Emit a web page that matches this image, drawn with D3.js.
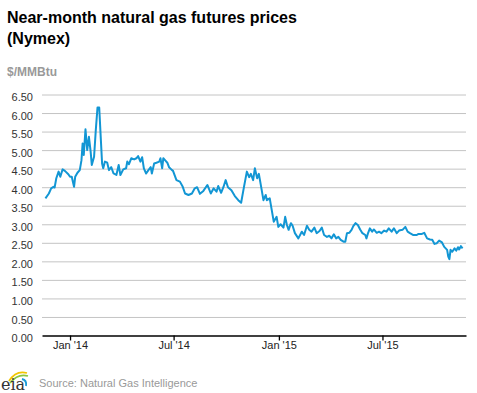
<!DOCTYPE html>
<html>
<head>
<meta charset="utf-8">
<script src="https://cdn.jsdelivr.net/npm/d3@7"></script>
<style>
  body { margin: 0; background: #fff; }
  svg { display: block; font-family: Arial, "Liberation Sans", sans-serif; }
</style>
</head>
<body>
<div id="chart"></div>
<script>
// Near-month natural gas futures (Nymex), $/MMBtu
const dates = [
  "2013-11-19","2013-11-25","2013-11-29","2013-12-03","2013-12-05","2013-12-08","2013-12-12","2013-12-15",
  "2013-12-19","2013-12-23","2013-12-29","2014-01-01","2014-01-04","2014-01-08","2014-01-10","2014-01-14",
  "2014-01-18","2014-01-21","2014-01-23","2014-01-25","2014-01-28","2014-01-31","2014-02-03","2014-02-06",
  "2014-02-08","2014-02-12","2014-02-15","2014-02-18","2014-02-21","2014-02-23","2014-02-26","2014-02-28",
  "2014-03-03","2014-03-07","2014-03-10","2014-03-14","2014-03-18","2014-03-23","2014-03-27","2014-03-30",
  "2014-04-04","2014-04-09","2014-04-11","2014-04-14","2014-04-18","2014-04-23","2014-04-27","2014-04-30",
  "2014-05-04","2014-05-07","2014-05-10","2014-05-14","2014-05-18","2014-05-22","2014-05-24","2014-05-28",
  "2014-06-01","2014-06-06","2014-06-08","2014-06-11","2014-06-13","2014-06-16","2014-06-20","2014-06-23",
  "2014-06-27","2014-06-30","2014-07-06","2014-07-12","2014-07-17","2014-07-21","2014-07-27","2014-08-02",
  "2014-08-07","2014-08-11","2014-08-16","2014-08-22","2014-08-29","2014-09-04","2014-09-09","2014-09-14",
  "2014-09-17","2014-09-22","2014-09-26","2014-09-30","2014-10-04","2014-10-10","2014-10-16","2014-10-22",
  "2014-10-27","2014-11-01","2014-11-06","2014-11-10","2014-11-13","2014-11-17","2014-11-20","2014-11-24",
  "2014-11-27","2014-12-01","2014-12-05","2014-12-09","2014-12-11","2014-12-16","2014-12-19","2014-12-23",
  "2014-12-28","2014-12-31","2015-01-04","2015-01-09","2015-01-12","2015-01-15","2015-01-18","2015-01-22",
  "2015-01-25","2015-01-29","2015-02-04","2015-02-10","2015-02-14","2015-02-19","2015-02-23","2015-02-27",
  "2015-03-04","2015-03-08","2015-03-13","2015-03-17","2015-03-21","2015-03-26","2015-03-30","2015-04-03",
  "2015-04-07","2015-04-11","2015-04-15","2015-04-19","2015-04-24","2015-04-27","2015-04-30","2015-05-04",
  "2015-05-08","2015-05-11","2015-05-15","2015-05-19","2015-05-23","2015-05-27","2015-06-01","2015-06-03",
  "2015-06-06","2015-06-09","2015-06-13","2015-06-16","2015-06-21","2015-06-25","2015-06-29","2015-07-04",
  "2015-07-08","2015-07-12","2015-07-17","2015-07-21","2015-07-26","2015-07-30","2015-08-05","2015-08-10",
  "2015-08-14","2015-08-18","2015-08-24","2015-08-30","2015-09-02","2015-09-05","2015-09-08","2015-09-12",
  "2015-09-17","2015-09-22","2015-09-26","2015-09-30","2015-10-04","2015-10-08","2015-10-13","2015-10-17",
  "2015-10-22","2015-10-24","2015-10-26","2015-10-28","2015-10-31","2015-11-04","2015-11-07","2015-11-10",
  "2015-11-12","2015-11-15","2015-11-18"
];
const prices = [
  3.70,3.83,3.97,4.01,3.99,4.24,4.42,4.28,
  4.48,4.44,4.35,4.28,4.28,4.01,4.28,4.39,
  4.46,4.73,5.18,4.87,5.56,5.00,5.36,4.96,
  4.60,4.82,5.54,6.15,6.15,5.54,4.64,4.51,
  4.69,4.66,4.46,4.54,4.37,4.33,4.60,4.33,
  4.48,4.51,4.69,4.62,4.78,4.75,4.78,4.84,
  4.69,4.81,4.51,4.37,4.46,4.54,4.37,4.64,
  4.66,4.69,4.78,4.51,4.78,4.73,4.66,4.54,
  4.48,4.44,4.19,4.15,4.01,3.83,3.79,3.83,
  3.97,4.00,3.82,3.90,4.06,3.83,3.97,3.88,
  4.03,3.85,4.00,4.19,4.00,3.92,3.76,3.65,
  3.58,4.01,4.42,4.27,4.36,4.19,4.51,4.24,
  4.36,4.01,3.65,3.79,3.65,3.70,3.43,3.07,
  3.20,2.93,3.00,2.91,3.20,2.98,2.85,3.03,
  2.96,2.76,2.62,2.80,2.71,2.96,2.85,2.80,
  2.91,2.76,2.82,2.91,2.71,2.66,2.69,2.62,
  2.73,2.62,2.66,2.58,2.53,2.53,2.76,2.77,
  2.85,2.95,3.03,2.98,2.86,2.76,2.71,2.62,
  2.77,2.89,2.80,2.86,2.77,2.80,2.76,2.83,
  2.80,2.89,2.80,2.89,2.76,2.83,2.85,2.93,
  2.80,2.76,2.71,2.71,2.74,2.74,2.74,2.77,
  2.62,2.59,2.58,2.47,2.49,2.56,2.51,2.39,
  2.31,2.13,2.06,2.31,2.26,2.35,2.29,2.38,
  2.32,2.41,2.35
];
const xTickDates = ["2014-01-01","2014-07-01","2015-01-01","2015-07-01"];
const yTicks = [0,0.5,1,1.5,2,2.5,3,3.5,4,4.5,5,5.5,6,6.5];
const xDomain = ["2013-11-13","2015-11-24"];

const W = 477, H = 393;
const plotLeft = 42, plotRight = 466, plotTop = 94.5, plotBottom = 335.5;
const parse = d3.timeParse("%Y-%m-%d");

const data = dates.map((d, i) => ({ date: parse(d), value: prices[i] }));

const svg = d3.select("#chart").append("svg")
    .attr("width", W)
    .attr("height", H);

const x = d3.scaleTime()
    .domain(xDomain.map(parse))
    .range([plotLeft, plotRight]);

const y = d3.scaleLinear()
    .domain([0, 6.5])
    .range([plotBottom, plotTop]);

// title
svg.append("text")
    .attr("x", 7).attr("y", 22.5)
    .style("font-size", "16px").style("font-weight", "bold").style("fill", "#000")
    .text("Near-month natural gas futures prices");
svg.append("text")
    .attr("x", 7).attr("y", 43.5)
    .style("font-size", "16px").style("font-weight", "bold").style("fill", "#000")
    .text("(Nymex)");

svg.append("text")
    .attr("x", 7).attr("y", 76)
    .style("font-size", "12px").style("font-weight", "bold").style("fill", "#999")
    .text("$/MMBtu");

// gridlines + y labels
const yAxis = svg.append("g")
    .attr("transform", `translate(${plotLeft},0)`)
    .call(d3.axisLeft(y).tickValues(yTicks).tickFormat(d3.format(".2f"))
        .tickSize(-(plotRight - plotLeft)).tickPadding(9));
yAxis.select(".domain").remove();
yAxis.selectAll(".tick line").attr("stroke", "#c4c4c4").attr("stroke-width", 1);
yAxis.selectAll(".tick text")
    .attr("dy", "0.55em")
    .style("font-size", "11px").style("fill", "#333")
    .style("font-family", "Arial, 'Liberation Sans', sans-serif");
yAxis.selectAll(".tick").filter(d => d === 0).select("line").remove();

// x axis
const xAxis = svg.append("g")
    .attr("transform", `translate(0,${plotBottom})`)
    .call(d3.axisBottom(x).tickValues(xTickDates.map(parse))
        .tickFormat(d3.timeFormat("%b '%y")).tickSize(5).tickSizeOuter(0).tickPadding(1));
xAxis.select(".domain").attr("stroke", "#000").attr("stroke-width", 1.6);
xAxis.selectAll(".tick line").attr("stroke", "#000").attr("stroke-width", 1.3);
xAxis.selectAll(".tick text")
    .style("font-size", "11px").style("fill", "#222")
    .style("font-family", "Arial, 'Liberation Sans', sans-serif");

// price line
const line = d3.line()
    .x(d => x(d.date))
    .y(d => y(d.value));

svg.append("path")
    .datum(data)
    .attr("d", line)
    .attr("fill", "none")
    .attr("stroke", "#1296d4")
    .attr("stroke-width", 2)
    .attr("stroke-linejoin", "round");

// eia logo + source
const logo = svg.append("g");
logo.append("path").attr("d", "M9,381 Q16,370 27,373").attr("fill", "none").attr("stroke", "#f2c500").attr("stroke-width", 1.8);
logo.append("path").attr("d", "M10,383 Q18,373 28,376").attr("fill", "none").attr("stroke", "#8cc63f").attr("stroke-width", 1.8);
logo.append("path").attr("d", "M22,379 Q27,380 26,386").attr("fill", "none").attr("stroke", "#1a9ad6").attr("stroke-width", 1.8);
logo.append("text")
    .attr("x", 1).attr("y", 390)
    .style("font-family", "'DejaVu Serif', 'Liberation Serif', serif")
    .style("font-size", "16px").style("fill", "#333")
    .text("eia");

svg.append("text")
    .attr("x", 39).attr("y", 387)
    .style("font-size", "11px").style("fill", "#999")
    .text("Source: Natural Gas Intelligence");
</script>
</body>
</html>
